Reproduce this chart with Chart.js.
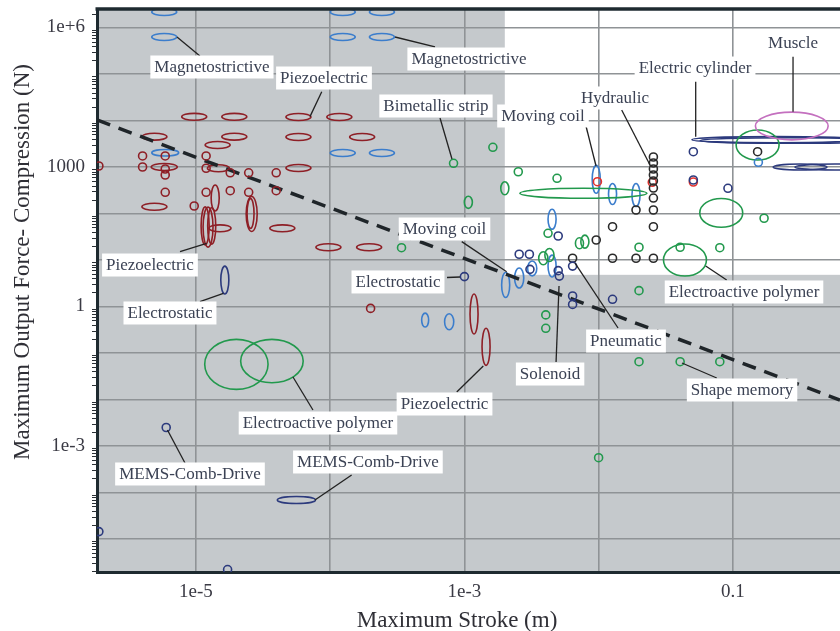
<!DOCTYPE html>
<html>
<head>
<meta charset="utf-8">
<script src="https://cdn.jsdelivr.net/npm/chart.js@4.4.1/dist/chart.umd.min.js"></script>
<style>
  html, body { margin: 0; padding: 0; background: #fff; }
  #wrap { width: 840px; height: 631px; }
</style>
</head>
<body>
<div id="wrap"><canvas id="c" width="840" height="631"></canvas></div>
<script>
// ---- Axes: one grid line per decade ----
const strokeDecades = [1e-5, 1e-4, 1e-3, 1e-2, 1e-1];
const strokeTickText = ['1e-5', '', '1e-3', '', '0.1'];
const forceDecades = [1e-5, 1e-4, 1e-3, 1e-2, 1e-1, 1, 10, 100, 1e3, 1e4, 1e5, 1e6];
const forceTickText = ['', '', '1e-3', '', '', '1', '', '', '1000', '', '', '1e+6'];
const strokeRange = [1.83e-6, 0.629];   // m
const forceRange = [1.95e-6, 2.5e6];    // N

// Region with larger stroke and force, left unshaded: [stroke, force]
const unshadedFrom = [2.0e-3, 4.8];

// Limit line across the map
const limitStroke = [1.83e-6, 0.629];
const limitForce = [10250, 0.00975];

// Actuator envelopes: [stroke (m), force (N), half-span in stroke decades, half-span in force decades]
const piezoEnvelopes = [
  [9.7e-6, 12000, 0.093, 0.075], [1.93e-5, 12000, 0.093, 0.075],
  [5.8e-5, 11900, 0.093, 0.075], [1.17e-4, 11900, 0.093, 0.075],
  [4.9e-6, 4490, 0.093, 0.075], [1.93e-5, 4490, 0.093, 0.075],
  [5.8e-5, 4420, 0.093, 0.075], [1.73e-4, 4420, 0.093, 0.075],
  [1.45e-5, 2970, 0.093, 0.075], [5.8e-6, 1000, 0.097, 0.075],
  [1.47e-5, 940, 0.082, 0.075], [5.8e-5, 950, 0.093, 0.075],
  [4.9e-6, 140, 0.093, 0.075], [1.51e-5, 48, 0.082, 0.075],
  [4.4e-5, 48, 0.093, 0.075], [9.7e-5, 18.8, 0.093, 0.075],
  [1.95e-4, 18.8, 0.093, 0.075],
  [1.39e-5, 215, 0.03, 0.28], [1.17e-5, 54, 0.03, 0.41],
  [1.23e-5, 51, 0.037, 0.43], [1.31e-5, 54, 0.03, 0.39],
  [2.6e-5, 97.5, 0.041, 0.376], [2.55e-5, 100, 0.026, 0.32],
  [1.18e-3, 0.69, 0.03, 0.43], [1.45e-3, 0.136, 0.03, 0.40]
];
const magnetoCoilEnvelopes = [
  [5.8e-6, 2.15e6, 0.093, 0.075], [5.8e-6, 6.25e5, 0.093, 0.075],
  [1.24e-4, 2.15e6, 0.093, 0.075], [2.43e-4, 2.15e6, 0.093, 0.075],
  [1.24e-4, 6.25e5, 0.093, 0.075], [2.43e-4, 6.25e5, 0.093, 0.075],
  [1.24e-4, 2000, 0.093, 0.075], [2.43e-4, 2000, 0.093, 0.075],
  [5.9e-6, 2030, 0.1, 0.07],
  [5.1e-4, 0.51, 0.026, 0.15], [7.7e-4, 0.47, 0.034, 0.172],
  [2.03e-3, 2.9, 0.03, 0.27], [2.56e-3, 4.1, 0.034, 0.215],
  [3.2e-3, 6.6, 0.034, 0.16], [4.5e-3, 75, 0.03, 0.215],
  [4.5e-3, 7.4, 0.03, 0.236], [9.6e-3, 543, 0.03, 0.30],
  [0.0127, 262, 0.03, 0.226], [0.019, 250, 0.03, 0.247]
];
const electricEnvelopes = [
  [1.64e-5, 3.7, 0.03, 0.30], [5.6e-5, 6.9e-5, 0.142, 0.075],
  [0.21, 3870, 0.626, 0.065], [0.267, 3715, 0.67, 0.06],
  [0.317, 1000, 0.2, 0.065], [0.577, 1000, 0.298, 0.065]
];
const polymerEnvelopes = [
  [2.0e-3, 348, 0.03, 0.14], [1.07e-3, 174, 0.03, 0.13],
  [7.2e-3, 22.9, 0.03, 0.118], [7.9e-3, 24.8, 0.03, 0.14],
  [3.87e-3, 10.9, 0.034, 0.14], [4.3e-3, 12.8, 0.034, 0.14],
  [7.7e-3, 272, 0.473, 0.108],
  [2.0e-5, 0.057, 0.236, 0.538], [3.68e-5, 0.067, 0.233, 0.467],
  [0.044, 10, 0.16, 0.344], [0.082, 103, 0.16, 0.31],
  [0.153, 2970, 0.16, 0.323]
];
const muscleEnvelopes = [[0.275, 7620, 0.271, 0.298]];

// Single actuators: [stroke (m), force (N)]
const piezoPoints = [
  [4.0e-6, 1730], [5.9e-6, 1730], [1.19e-5, 1730], [4.0e-6, 1000], [5.9e-6, 905],
  [5.9e-6, 673], [1.89e-6, 1050], [1.19e-5, 940], [1.8e-5, 750], [2.47e-5, 750],
  [3.96e-5, 750], [5.9e-6, 286], [1.19e-5, 286], [1.8e-5, 309], [2.47e-5, 286],
  [3.96e-5, 309], [9.7e-6, 145], [2.0e-4, 0.91]
];
const coilPoints = [[0.155, 1262]];
const electricPoints = [
  [1.0e-3, 4.4], [6.0e-6, 2.5e-3], [1.89e-6, 1.44e-5], [1.72e-5, 2.2e-6],
  [2.56e-3, 13.3], [3.05e-3, 13.3], [3.08e-3, 6.3], [5.0e-3, 32.8], [5.0e-3, 5.9],
  [5.1e-3, 4.5], [6.4e-3, 7.4], [6.4e-3, 1.68], [6.4e-3, 1.11], [0.0127, 1.43],
  [0.0508, 2133], [0.0508, 525], [0.092, 348]
];
const fluidPoints = [
  [0.0256, 1641], [0.0256, 1219], [0.0256, 906], [0.0256, 673], [0.0256, 500],
  [0.0256, 353], [0.0256, 215], [0.0256, 119], [0.0256, 52], [0.0256, 10.9],
  [0.019, 119], [0.0127, 52], [0.0096, 26.9], [0.0127, 10.9], [0.019, 10.9],
  [6.4e-3, 10.9], [0.153, 2133]
];
const highlightPoints = [[9.8e-3, 483], [0.0251, 469], [0.0508, 476]];
const thermalPolymerPoints = [
  [8.3e-4, 1200], [1.63e-3, 2650], [3.4e-4, 18.4], [2.52e-3, 790], [4.9e-3, 571],
  [4.2e-3, 37.5], [0.02, 18.8], [0.02, 2.19], [0.0405, 18.8], [0.08, 18.4],
  [0.171, 79], [4.04e-3, 0.66], [4.04e-3, 0.34], [0.02, 0.065], [0.0405, 0.065],
  [0.08, 0.065], [0.01, 5.6e-4]
];

// Callouts: label centre, leader start and leader end, all as [stroke, force]
const callouts = [
  { text: 'Magnetostrictive', at: [1.315e-5, 1.415e5], from: [1.07e-5, 2.44e5], to: [7.22e-6, 6.25e5] },
  { text: 'Piezoelectric', at: [8.99e-5, 8.2e4], from: [8.65e-5, 4.16e4], to: [7.07e-5, 1.21e4] },
  { text: 'Magnetostrictive', at: [1.082e-3, 2.1e5], from: [6.04e-4, 3.81e5], to: [3.04e-4, 6.25e5] },
  { text: 'Bimetallic strip', at: [6.14e-4, 2.05e4], from: [6.58e-4, 1.13e4], to: [8.08e-4, 1486] },
  { text: 'Moving coil', at: [3.85e-3, 1.25e4], from: [8.05e-3, 7620], to: [9.57e-3, 1052] },
  { text: 'Hydraulic', at: [0.01325, 3.05e4], from: [0.01486, 1.68e4], to: [0.02415, 1104] },
  { text: 'Electric cylinder', at: [0.0523, 1.345e5], from: [0.0529, 6.83e4], to: [0.0529, 4485] },
  { text: 'Muscle', at: [0.281, 4.64e5], from: [0.281, 2.36e5], to: [0.281, 1.546e4] },
  { text: 'Piezoelectric', at: [4.54e-6, 7.8], from: [7.6e-6, 15.1], to: [1.2e-5, 22.9] },
  { text: 'Electrostatic', at: [6.4e-6, 0.725], from: [1.07e-5, 1.27], to: [1.6e-5, 1.92] },
  { text: 'Electroactive polymer', at: [8.11e-5, 3.12e-3], from: [7.44e-5, 5.94e-3], to: [5.28e-5, 0.0305] },
  { text: 'Moving coil', at: [7.11e-4, 46.4], from: [9.55e-4, 24.8], to: [2.065e-3, 5.6] },
  { text: 'Electrostatic', at: [3.2e-4, 3.37], from: [7.42e-4, 4.2], to: [9.27e-4, 4.31] },
  { text: 'Piezoelectric', at: [7.11e-4, 8.0e-3], from: [8.77e-4, 0.0145], to: [1.383e-3, 0.0525] },
  { text: 'Solenoid', at: [4.35e-3, 0.0353], from: [4.82e-3, 0.064], to: [5.07e-3, 2.76] },
  { text: 'Pneumatic', at: [0.016, 0.181], from: [0.01396, 0.345], to: [6.67e-3, 8.6] },
  { text: 'Electroactive polymer', at: [0.1212, 2.05], from: [0.090, 3.71], to: [0.0628, 7.43] },
  { text: 'Shape memory', at: [0.1172, 0.016], from: [0.0759, 0.029], to: [0.0418, 0.061] },
  { text: 'MEMS-Comb-Drive', at: [9.02e-6, 2.5e-4], from: [8.28e-6, 4.31e-4], to: [6.13e-6, 2.21e-3] },
  { text: 'MEMS-Comb-Drive', at: [1.91e-4, 4.53e-4], from: [1.445e-4, 2.38e-4], to: [7.7e-5, 6.9e-5] }
];

// ---- Styling ----
const SERIF = '"Liberation Serif", "Times New Roman", serif';
const COLORS = {
  piezo: '#8e1f26', coil: '#3b7dcc', electric: '#2c3a7d', polymer: '#22994d',
  fluid: '#2a2a2a', highlight: '#e3312d', muscle: '#c470bf'
};
const ellipseGroups = [
  { items: piezoEnvelopes, color: COLORS.piezo },
  { items: magnetoCoilEnvelopes, color: COLORS.coil },
  { items: electricEnvelopes, color: COLORS.electric },
  { items: polymerEnvelopes, color: COLORS.polymer },
  { items: muscleEnvelopes, color: COLORS.muscle }
];

const toXY = arr => arr.map(([x, y]) => ({ x, y }));
const pointSet = (arr, color) => ({
  type: 'scatter', data: toXY(arr), borderColor: color, backgroundColor: 'rgba(0,0,0,0)',
  pointRadius: 4, pointBorderWidth: 1.6, pointHoverRadius: 4, clip: 0
});

const backdrop = {
  id: 'backdrop',
  beforeDraw(chart) {
    const { ctx, chartArea: a, scales: { x, y } } = chart;
    ctx.save();
    ctx.fillStyle = '#ffffff';
    ctx.fillRect(0, 0, chart.width, chart.height);
    ctx.fillStyle = '#c5c9cc';
    ctx.fillRect(a.left, a.top, a.right - a.left, a.bottom - a.top);
    const wx = x.getPixelForValue(unshadedFrom[0]);
    const wy = y.getPixelForValue(unshadedFrom[1]);
    ctx.fillStyle = '#ffffff';
    ctx.fillRect(wx, a.top, a.right - wx, wy - a.top);
    ctx.restore();
  }
};

const envelopes = {
  id: 'envelopes',
  beforeDatasetsDraw(chart) {
    const { ctx, chartArea: a, scales: { x, y } } = chart;
    ctx.save();
    ctx.beginPath();
    ctx.rect(a.left, a.top, a.right - a.left, a.bottom - a.top);
    ctx.clip();
    ctx.lineWidth = 1.6;
    for (const g of ellipseGroups) {
      ctx.strokeStyle = g.color;
      for (const [sv, fv, hs, hf] of g.items) {
        const x0 = x.getPixelForValue(sv / Math.pow(10, hs));
        const x1 = x.getPixelForValue(sv * Math.pow(10, hs));
        const y0 = y.getPixelForValue(fv * Math.pow(10, hf));
        const y1 = y.getPixelForValue(fv / Math.pow(10, hf));
        ctx.beginPath();
        ctx.ellipse((x0 + x1) / 2, (y0 + y1) / 2, Math.abs(x1 - x0) / 2, Math.abs(y1 - y0) / 2, 0, 0, Math.PI * 2);
        ctx.stroke();
      }
    }
    ctx.restore();
  }
};

const overlay = {
  id: 'overlay',
  afterDatasetsDraw(chart) {
    const { ctx, chartArea: a, scales: { x, y } } = chart;
    ctx.save();
    // top frame line
    ctx.strokeStyle = '#1e2a30';
    ctx.lineWidth = 3.5;
    ctx.beginPath();
    ctx.moveTo(a.left - 1.5, a.top);
    ctx.lineTo(a.right, a.top);
    ctx.stroke();
    // minor ticks on the force axis
    ctx.lineWidth = 1;
    ctx.strokeStyle = '#2a3035';
    for (let d = -6; d <= 6; d++) {
      for (let m = 2; m <= 9; m++) {
        const v = m * Math.pow(10, d);
        if (v < forceRange[0] || v > forceRange[1]) continue;
        const py = Math.round(y.getPixelForValue(v)) + 0.5;
        ctx.beginPath();
        ctx.moveTo(a.left - 5, py);
        ctx.lineTo(a.left, py);
        ctx.stroke();
      }
    }
    // callout leaders
    ctx.strokeStyle = '#222';
    ctx.lineWidth = 1.3;
    for (const c of callouts) {
      ctx.beginPath();
      ctx.moveTo(x.getPixelForValue(c.from[0]), y.getPixelForValue(c.from[1]));
      ctx.lineTo(x.getPixelForValue(c.to[0]), y.getPixelForValue(c.to[1]));
      ctx.stroke();
    }
    // callout boxes and text
    ctx.font = '17px ' + SERIF;
    ctx.textAlign = 'center';
    ctx.textBaseline = 'middle';
    for (const c of callouts) {
      const cx = x.getPixelForValue(c.at[0]);
      const cy = y.getPixelForValue(c.at[1]);
      const w = ctx.measureText(c.text).width + 8;
      const h = 23;
      ctx.fillStyle = '#ffffff';
      ctx.fillRect(cx - w / 2, cy - h / 2, w, h);
      ctx.fillStyle = '#3b4254';
      ctx.fillText(c.text, cx, cy + 1);
    }
    ctx.restore();
  },
  afterDraw(chart) {
    const { ctx } = chart;
    ctx.save();
    ctx.fillStyle = '#2f2f36';
    ctx.font = '23px ' + SERIF;
    ctx.textAlign = 'center';
    ctx.textBaseline = 'alphabetic';
    ctx.fillText('Maximum Stroke (m)', 457, 627);
    ctx.translate(23, 262);
    ctx.rotate(-Math.PI / 2);
    ctx.textBaseline = 'middle';
    ctx.fillText('Maximum Output Force- Compression (N)', 0, 0);
    ctx.restore();
  }
};

new Chart(document.getElementById('c'), {
  data: {
    datasets: [
      pointSet(piezoPoints, COLORS.piezo),
      pointSet(coilPoints, COLORS.coil),
      pointSet(electricPoints, COLORS.electric),
      pointSet(fluidPoints, COLORS.fluid),
      pointSet(highlightPoints, COLORS.highlight),
      pointSet(thermalPolymerPoints, COLORS.polymer),
      {
        type: 'line',
        data: limitStroke.map((s, i) => ({ x: s, y: limitForce[i] })),
        borderColor: '#1f2529', borderWidth: 3.5, borderDash: [14, 9],
        pointRadius: 0, fill: false, clip: 0
      }
    ]
  },
  options: {
    responsive: false,
    animation: false,
    events: [],
    layout: { autoPadding: false, padding: { top: 9, right: 0, bottom: 0, left: 0 } },
    plugins: { legend: { display: false }, tooltip: { enabled: false } },
    scales: {
      x: {
        type: 'logarithmic', position: 'bottom',
        min: strokeRange[0], max: strokeRange[1],
        afterBuildTicks: s => { s.ticks = strokeDecades.map(v => ({ value: v })); },
        afterFit: s => { s.height = 59; s.paddingLeft = 0; s.paddingRight = 0; },
        ticks: {
          callback: (v, i) => strokeTickText[i],
          autoSkip: false, maxRotation: 0, padding: 9,
          color: '#3a3a44', font: { family: SERIF, size: 19 }
        },
        grid: { color: '#8f9396', lineWidth: 1.6, drawTicks: false },
        border: { display: true, color: '#1e2a30', width: 3 }
      },
      y: {
        type: 'logarithmic', position: 'left',
        min: forceRange[0], max: forceRange[1],
        afterBuildTicks: s => { s.ticks = forceDecades.map(v => ({ value: v })); },
        afterFit: s => { s.width = 97; s.paddingTop = 0; s.paddingBottom = 0; },
        ticks: {
          callback: (v, i) => forceTickText[i],
          autoSkip: false, padding: 12,
          color: '#3a3a44', font: { family: SERIF, size: 19 }
        },
        grid: { color: '#8f9396', lineWidth: 1.6, drawTicks: false },
        border: { display: true, color: '#1e2a30', width: 3 }
      }
    }
  },
  plugins: [backdrop, envelopes, overlay]
});
</script>
</body>
</html>
